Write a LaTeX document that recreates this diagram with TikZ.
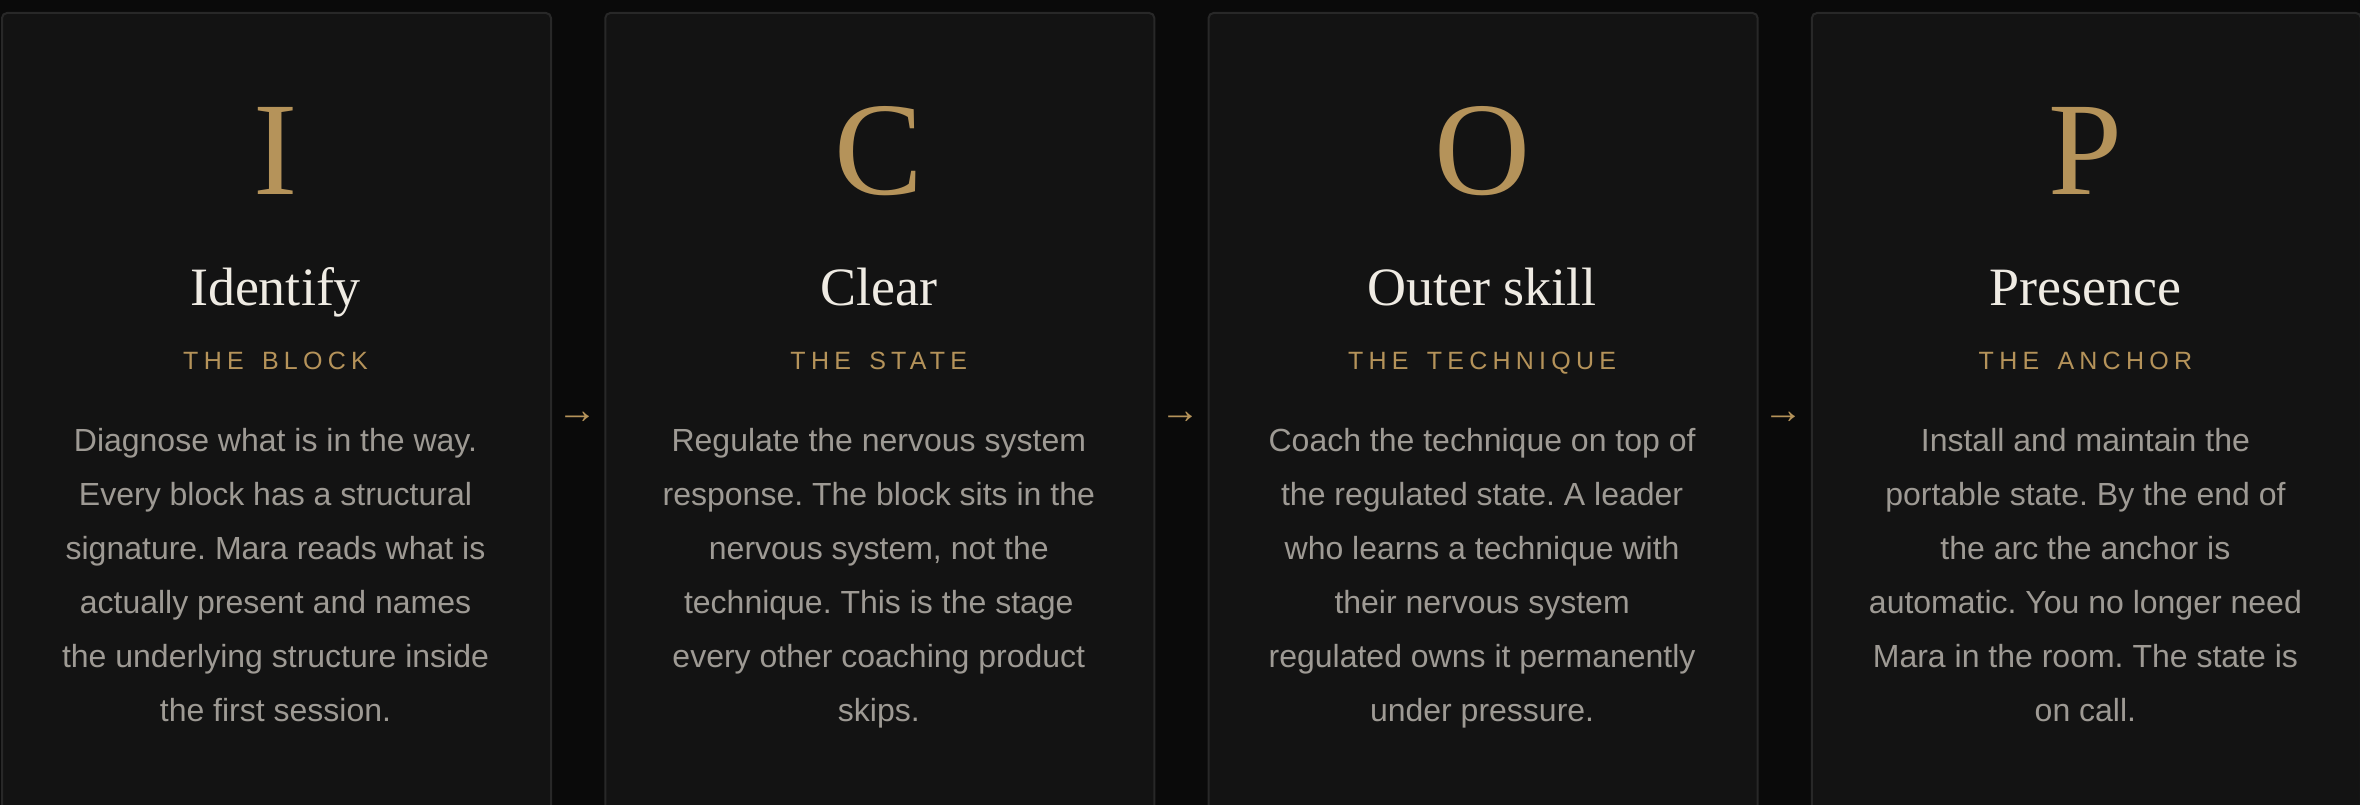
\documentclass[tikz,border=0pt]{standalone}
\usepackage{fontspec}
\setmainfont{Liberation Serif}
\setsansfont{Liberation Sans}
\newfontfamily\tagFont[LetterSpace=21, WordSpace=1.5]{Liberation Sans}
\newfontfamily\arrowFont{Liberation Sans}
\usetikzlibrary{positioning}
\frenchspacing
\tikzstyle{canvas} = [x = 1pt, y = -1pt]
\definecolor{pageColor}{HTML}{0A0A0A}
\definecolor{cardColor}{HTML}{131313}
\definecolor{cardEdge}{HTML}{282828}
\definecolor{goldColor}{HTML}{B5935A}
\definecolor{titleColor}{HTML}{EFEBE3}
\definecolor{bodyColor}{HTML}{9E9A94}
\tikzstyle{cardStyle} = [draw=cardEdge, fill=cardColor, line width=2pt, rounded corners=5pt, inner sep=0pt, minimum width=549pt, minimum height=830pt, anchor=north west]
\tikzstyle{letterText} = [text=goldColor, font=\fontsize{133}{133}\selectfont, inner sep=0pt, anchor=base]
\tikzstyle{titleText} = [text=titleColor, font=\fontsize{54}{54}\selectfont, inner sep=0pt, anchor=base]
\tikzstyle{tagText} = [text=goldColor, font=\tagFont\fontsize{25}{25}\selectfont, inner sep=0pt, anchor=base]
\tikzstyle{bodyText} = [text=bodyColor, font=\sffamily\fontsize{32}{54}\selectfont, align=center, inner sep=0pt, anchor=north]
\tikzstyle{arrowText} = [text=goldColor, font=\arrowFont\fontsize{40}{40}\selectfont, inner sep=0pt]
\newcommand{\cardPitch}{603.3}
\newcommand{\stageCard}[5]{
  \pgfmathsetmacro{\cardLeft}{1 + \cardPitch * (#1 - 1)}
  \pgfmathsetmacro{\cardCenter}{\cardLeft + 274.5}
  \node [cardStyle] (card#1) at (\cardLeft, 12) {};
  \node [letterText] (letter#1) at (\cardCenter, 195) {#2};
  \node [titleText] (title#1) at (\cardCenter, 305) {#3};
  \node [tagText] (tag#1) at (\cardCenter, 369) {#4};
  \node [bodyText] (body#1) at (\cardCenter, 428.5) {#5};
}

\begin{document}
\begin{tikzpicture}[canvas]
  \fill [pageColor] (0, 0) rectangle (2360, 805);
  \useasboundingbox (0, 0) rectangle (2360, 805);

  \stageCard{1}{I}{Identify}{THE BLOCK}{Diagnose what is in the way.\\Every block has a structural\\signature. Mara reads what is\\actually present and names\\the underlying structure inside\\the first session.}
  \stageCard{2}{C}{Clear}{THE STATE}{Regulate the nervous system\\response. The block sits in the\\nervous system, not the\\technique. This is the stage\\every other coaching product\\skips.}
  \stageCard{3}{O}{Outer skill}{THE TECHNIQUE}{Coach the technique on top of\\the regulated state. A leader\\who learns a technique with\\their nervous system\\regulated owns it permanently\\under pressure.}
  \stageCard{4}{P}{Presence}{THE ANCHOR}{Install and maintain the\\portable state. By the end of\\the arc the anchor is\\automatic. You no longer need\\Mara in the room. The state is\\on call.}

  \foreach \gap in {1,2,3} {
    \pgfmathsetmacro{\gapCenter}{577 + \cardPitch * (\gap - 1)}
    \node [arrowText] (arrow\gap) at (\gapCenter, 418) {→};
  }
\end{tikzpicture}
\end{document}
